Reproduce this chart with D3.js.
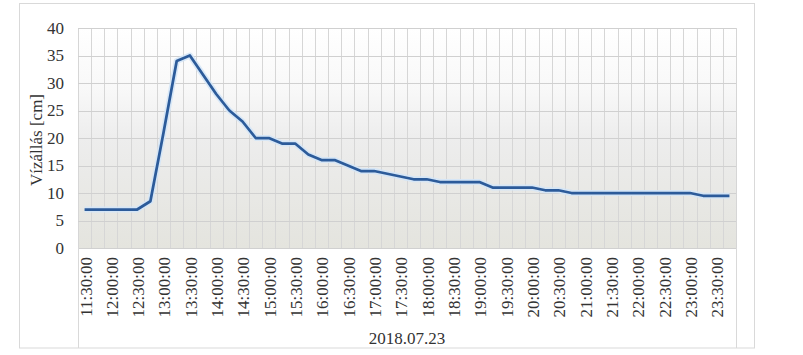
<!DOCTYPE html>
<html>
<head>
<meta charset="utf-8">
<script src="https://cdn.jsdelivr.net/npm/d3@7/dist/d3.min.js"></script>
<style>
  html, body { margin: 0; padding: 0; background: #ffffff; }
  svg { display: block; }
  svg text { font-family: "Liberation Serif", "DejaVu Serif", serif; fill: #333333; }
</style>
</head>
<body>
<svg id="chart" width="803" height="355"></svg>
<script>
// ---- data ----
const times = ["11:30:00","11:45:00","12:00:00","12:15:00","12:30:00","12:45:00","13:00:00","13:15:00","13:30:00","13:45:00",
  "14:00:00","14:15:00","14:30:00","14:45:00","15:00:00","15:15:00","15:30:00","15:45:00","16:00:00","16:15:00",
  "16:30:00","16:45:00","17:00:00","17:15:00","17:30:00","17:45:00","18:00:00","18:15:00","18:30:00","18:45:00",
  "19:00:00","19:15:00","19:30:00","19:45:00","20:00:00","20:15:00","20:30:00","20:45:00","21:00:00","21:15:00",
  "21:30:00","21:45:00","22:00:00","22:15:00","22:30:00","22:45:00","23:00:00","23:15:00","23:30:00","23:45:00"];
const levels = [7,7,7,7,7,8.5,21,34,35,31.5,
  28,25,23,20,20,19,19,17,16,16,
  15,14,14,13.5,13,12.5,12.5,12,12,12,
  12,11,11,11,11,10.5,10.5,10,10,10,
  10,10,10,10,10,10,10,9.5,9.5,9.5];
const yTicks = [0,5,10,15,20,25,30,35,40];
const dateLabel = "2018.07.23";
const yTitle = "Vízállás [cm]";

// ---- layout ----
const svg = d3.select("#chart");
const L = 78, R = 736, T = 28, B = 248;
const FONT = "'Liberation Serif', 'DejaVu Serif', serif";

const x = d3.scaleBand().domain(times).range([L, R]).paddingInner(0).paddingOuter(0);
const y = d3.scaleLinear().domain([0, 40]).range([B, T]);

// outer chart border
svg.append("rect").attr("x", 19.5).attr("y", 3.5).attr("width", 735).attr("height", 344.5)
  .attr("fill", "#ffffff").attr("stroke", "#d9d9d9").attr("stroke-width", 1);

// plot area gradient
const defs = svg.append("defs");
const grad = defs.append("linearGradient").attr("id", "bg").attr("x1", 0).attr("y1", 0).attr("x2", 0).attr("y2", 1);
grad.append("stop").attr("offset", "0%").attr("stop-color", "#ffffff");
grad.append("stop").attr("offset", "28%").attr("stop-color", "#f8f8f8");
grad.append("stop").attr("offset", "50%").attr("stop-color", "#ededed");
grad.append("stop").attr("offset", "100%").attr("stop-color", "#e4e4de");
svg.append("rect").attr("x", L).attr("y", T).attr("width", R - L).attr("height", B - T).attr("fill", "url(#bg)");

// vertical gridlines (category boundaries)
const bounds = times.map(t => x(t)).concat([R]);
svg.append("g").selectAll("line").data(bounds).join("line")
  .attr("x1", d => Math.round(d) + 0.5).attr("x2", d => Math.round(d) + 0.5)
  .attr("y1", T).attr("y2", B)
  .attr("stroke", "#d6d6d6").attr("stroke-width", 1);

// horizontal gridlines
svg.append("g").selectAll("line").data(yTicks).join("line")
  .attr("x1", L).attr("x2", R)
  .attr("y1", d => Math.round(y(d)) + 0.5).attr("y2", d => Math.round(y(d)) + 0.5)
  .attr("stroke", "#d0d0d0").attr("stroke-width", 1);

// y tick labels
svg.append("g").selectAll("text").data(yTicks).join("text")
  .attr("x", 64).attr("y", d => y(d)).attr("dy", "0.35em")
  .attr("text-anchor", "end").attr("font-family", FONT).style("font-size", "17px")
  .text(d => d);

// y title
svg.append("text")
  .attr("transform", `translate(${36},${(T + B) / 2 + 2}) rotate(-90)`)
  .attr("text-anchor", "middle").attr("dy", "0.35em").attr("font-family", FONT).style("font-size", "17px")
  .text(yTitle);

// x tick labels (every other category)
svg.append("g").selectAll("text").data(times.filter((d, i) => i % 2 === 0)).join("text")
  .attr("transform", d => `translate(${x(d) + x.bandwidth() / 2 + 1},${257}) rotate(-90)`)
  .attr("text-anchor", "end").attr("dy", "0.35em").attr("font-family", FONT).style("font-size", "17px")
  .text(d => d);

// multi-level axis separators
svg.append("line").attr("x1", L + 0.5).attr("x2", L + 0.5).attr("y1", B).attr("y2", 348).attr("stroke", "#d9d9d9");
svg.append("line").attr("x1", R + 0.5).attr("x2", R + 0.5).attr("y1", B).attr("y2", 348).attr("stroke", "#d9d9d9");

// date label
svg.append("text").attr("x", (L + R) / 2).attr("y", 338).attr("dy", "0.35em")
  .attr("text-anchor", "middle").attr("font-family", FONT).style("font-size", "17px").text(dateLabel);

// series line
const pts = times.map((t, i) => [x(t) + x.bandwidth() / 2, y(levels[i])]);
const line = d3.line();
svg.append("path").attr("d", line(pts)).attr("fill", "none")
  .attr("stroke", "#d4e6f7").attr("stroke-width", 6).attr("stroke-linejoin", "round").attr("opacity", 0.9);
svg.append("path").attr("d", line(pts)).attr("fill", "none")
  .attr("stroke", "#2c5b9a").attr("stroke-width", 2.75).attr("stroke-linejoin", "round");
</script>
</body>
</html>
